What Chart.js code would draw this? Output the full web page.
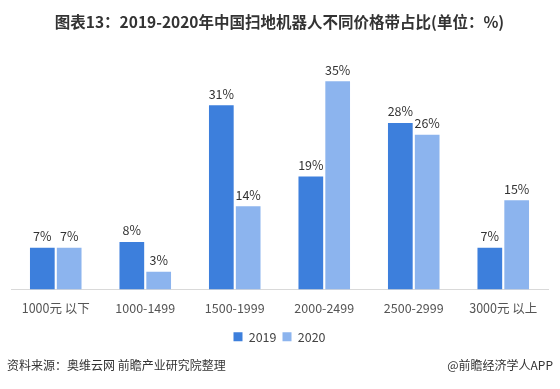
<!DOCTYPE html>
<html><head><meta charset="utf-8">
<script src="https://cdn.jsdelivr.net/npm/chart.js@4/dist/chart.umd.min.js"></script>
<style>
html,body{margin:0;padding:0;background:#fff;}
#wrap{position:relative;width:560px;height:389px;}
#foot{position:absolute;left:7px;right:7px;top:356px;font-family:"Noto Sans CJK SC",sans-serif;font-size:12px;color:#333;}
#foot .r{position:absolute;right:0;top:0;}
</style></head>
<body>
<div id="wrap"><canvas id="c" width="560" height="389"></canvas>
<div id="foot"><span>资料来源：奥维云网 前瞻产业研究院整理</span><span class="r">@前瞻经济学人APP</span></div>
</div>
<script>
const categories = ["1000元 以下","1000-1499","1500-1999","2000-2499","2500-2999","3000元 以上"];
const series2019 = [7, 8, 31, 19, 28, 7];
const series2020 = [7, 3, 14, 35, 26, 15];
const titleText = "图表13：2019-2020年中国扫地机器人不同价格带占比(单位：%)";
const FONT = '"Noto Sans CJK SC", sans-serif';

const labelPlugin = {
  id: 'labels',
  afterDatasetsDraw(chart) {
    const ctx = chart.ctx;
    ctx.save();
    ctx.font = '12.5px ' + FONT;
    ctx.fillStyle = '#333';
    ctx.textAlign = 'center';
    ctx.textBaseline = 'bottom';
    chart.data.datasets.forEach((ds, i) => {
      chart.getDatasetMeta(i).data.forEach((bar, j) => {
        ctx.fillText(ds.data[j] + '%', bar.x, bar.y - 5);
      });
    });
    ctx.restore();
  }
};

new Chart(document.getElementById('c'), {
  type: 'bar',
  data: {
    labels: categories,
    datasets: [
      {label: '2019', data: series2019, backgroundColor: '#3d7fdc'},
      {label: '2020', data: series2020, backgroundColor: '#8cb4ee'}
    ]
  },
  options: {
    responsive: false,
    animation: false,
    devicePixelRatio: 1,
    layout: {padding: {left: 11, right: 12, top: 7, bottom: 36}},
    datasets: {bar: {categoryPercentage: 0.6, barPercentage: 0.92}},
    plugins: {
      title: {display: true, text: titleText, color: '#333',
        font: {family: FONT, size: 15.5, weight: 'bold'}, padding: {top: 6, bottom: 20}},
      legend: {position: 'bottom',
        labels: {boxWidth: 9, boxHeight: 9, color: '#444', font: {family: FONT, size: 12.5}, padding: 6}},
      tooltip: {enabled: false}
    },
    scales: {
      x: {grid: {display: false}, border: {color: '#d9d9d9'},
        ticks: {color: '#555', font: {family: FONT, size: 12.5}, padding: 3},
        afterFit(scale) { scale.height += 6; }},
      y: {display: false, min: 0, max: 40}
    }
  },
  plugins: [labelPlugin]
});
</script>
</body></html>
